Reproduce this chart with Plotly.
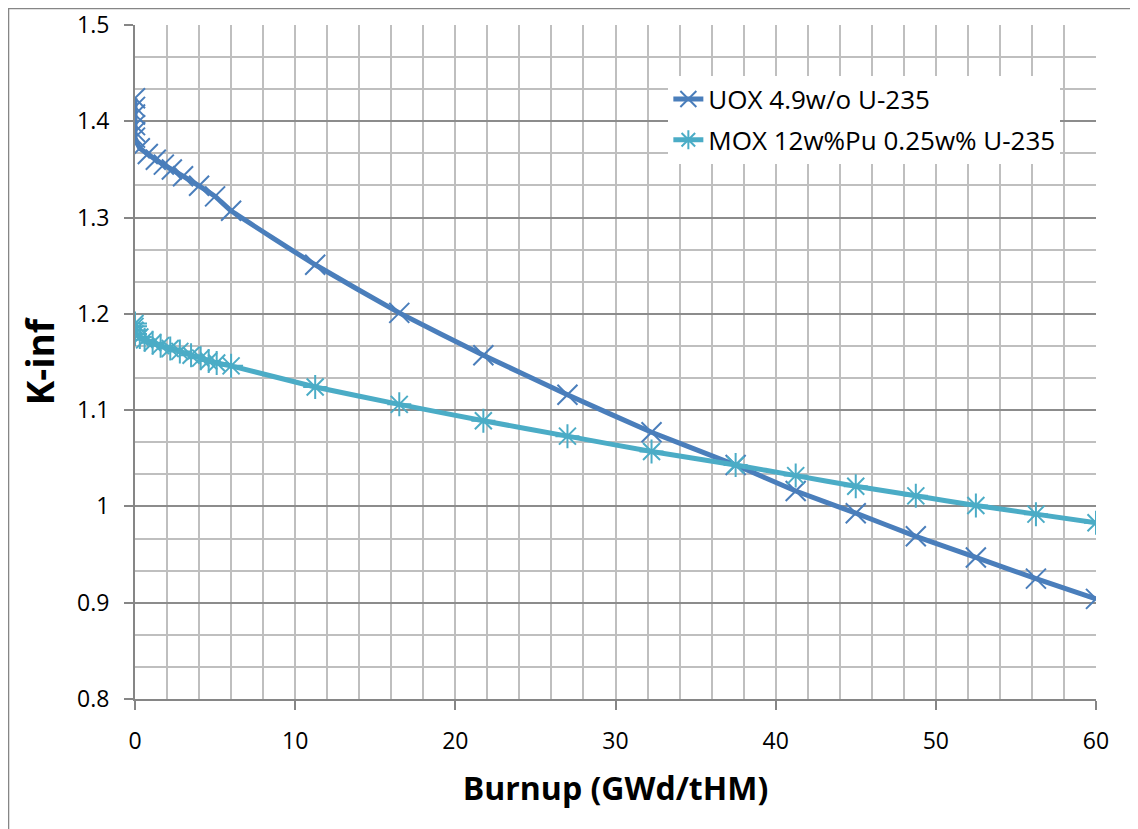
import plotly.graph_objects as go

# Burnup (GWd/tHM)
uox_x = [0, 0, 0, 0, 0, 0, 0.3, 0.8, 1.3, 1.8, 2.3, 3, 4, 5, 6,
         11.25, 16.5, 21.75, 27, 32.25, 37.5, 41.25, 45, 48.75, 52.5, 56.25, 60]
uox_k = [1.424, 1.415, 1.407, 1.396, 1.389, 1.383, 1.372, 1.366, 1.360, 1.355, 1.350, 1.343, 1.333, 1.322, 1.307,
         1.251, 1.201, 1.157, 1.116, 1.077, 1.043, 1.016, 0.993, 0.969, 0.947, 0.925, 0.904]

mox_x = [0, 0, 0, 0, 0.3, 0.6, 1.1, 1.6, 2.2, 2.8, 3.5, 4.1, 4.6, 5.1, 6,
         11.25, 16.5, 21.75, 27, 32.25, 37.5, 41.25, 45, 48.75, 52.5, 56.25, 60]
mox_k = [1.190, 1.187, 1.183, 1.179, 1.176, 1.173, 1.170, 1.167, 1.164, 1.161, 1.157, 1.154, 1.151, 1.149, 1.146,
         1.124, 1.106, 1.089, 1.073, 1.057, 1.043, 1.032, 1.021, 1.011, 1.001, 0.992, 0.983]

names = ["UOX 4.9w/o U-235", "MOX 12w%Pu 0.25w% U-235"]
x_ticks = [0, 10, 20, 30, 40, 50, 60]
y_ticks = [0.8, 0.9, 1.0, 1.1, 1.2, 1.3, 1.4, 1.5]
y_labels = ["0.8", "0.9", "1", "1.1", "1.2", "1.3", "1.4", "1.5"]

FONT = "Open Sans"

fig = go.Figure()
fig.add_trace(go.Scatter(
    x=uox_x, y=uox_k, name=names[0], mode="lines+markers", legendgroup="uox",
    line=dict(color="#4a7ebb", width=5, shape="spline", smoothing=0.3),
    marker=dict(symbol="x-thin", size=20, line=dict(color="#4a7ebb", width=2), color="#4a7ebb"),
))
fig.add_trace(go.Scatter(
    x=mox_x, y=mox_k, name=names[1], mode="lines+markers", legendgroup="mox",
    line=dict(color="#4bacc6", width=5, shape="spline", smoothing=0.3),
    marker=dict(symbol="asterisk-open", size=20, line=dict(color="#4bacc6", width=2), color="#4bacc6"),
))

# page body adds an 8px offset; figure sized so the plot area lands at x 135-1096, y 25-699
fig.update_layout(
    width=1130, height=821,
    margin=dict(l=127, r=42, t=17, b=130, autoexpand=False),
    paper_bgcolor="white", plot_bgcolor="white",
    font=dict(family=FONT, color="black", size=22),
    showlegend=True,
    legend=dict(x=0.555, y=0.925, xanchor="left", yanchor="top",
                bgcolor="white", borderwidth=0,
                font=dict(family=FONT, size=26, color="black"),
                tracegroupgap=4),
)

fig.update_xaxes(
    range=[0, 60], tickvals=x_ticks, ticktext=[str(v) for v in x_ticks],
    showgrid=True, gridcolor="#bfbfbf", gridwidth=2,
    minor=dict(dtick=2, tick0=0, showgrid=True, gridcolor="#bfbfbf", gridwidth=2),
    showline=True, linecolor="#868686", linewidth=2,
    ticks="outside", ticklen=9, tickcolor="#868686", tickwidth=2,
    ticklabelstandoff=11,
    tickfont=dict(size=23, family=FONT),
    title=dict(text="<b>Burnup (GWd/tHM)</b>", font=dict(size=32, family=FONT), standoff=23),
    zeroline=False, automargin=False,
)
fig.update_yaxes(
    range=[0.8, 1.5], tickvals=y_ticks, ticktext=y_labels,
    showgrid=True, gridcolor="#8c8c8c", gridwidth=2,
    minor=dict(dtick=0.1 / 3, tick0=0.8, showgrid=True, gridcolor="#bfbfbf", gridwidth=2),
    showline=True, linecolor="#868686", linewidth=2,
    ticks="outside", ticklen=9, tickcolor="#868686", tickwidth=2,
    ticklabelstandoff=10,
    tickfont=dict(size=23, family=FONT),
    title=dict(text="<b>K-inf</b>", font=dict(size=37, family=FONT), standoff=11),
    zeroline=False, automargin=False,
)

# outer chart border
fig.add_shape(type="rect", xref="paper", yref="paper",
              x0=-0.1316, x1=1.06, y0=-0.25, y1=1.0245,
              line=dict(color="#868686", width=1.5), fillcolor="rgba(0,0,0,0)", layer="below")

fig.write_html("out.html")
